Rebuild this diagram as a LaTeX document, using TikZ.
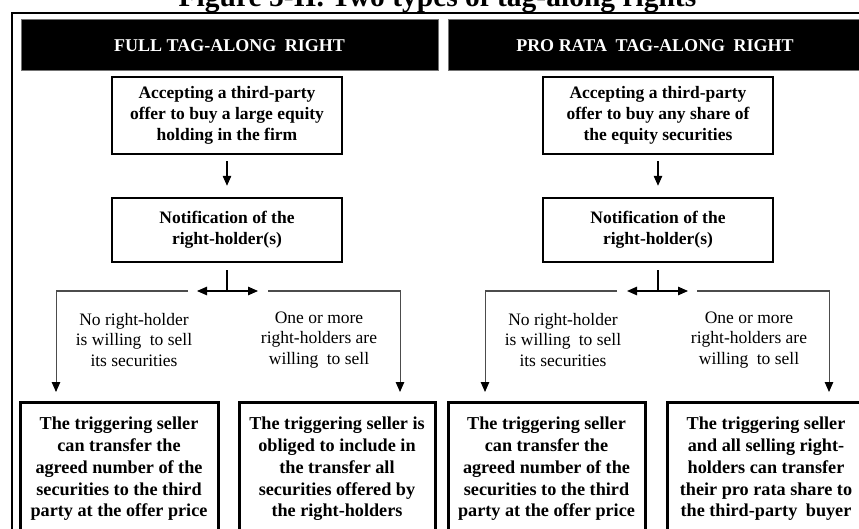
\documentclass[tikz,border=0pt]{standalone}
\usepackage{fontspec}
\setmainfont{Liberation Serif}
\usetikzlibrary{arrows.meta,calc}
\begin{document}
\begin{tikzpicture}[x=1pt,y=1pt,
  header/.style={fill=black, draw=black!55, line width=1pt, text=white,
    font=\bfseries\fontsize{18}{21}\selectfont, minimum height=51pt, inner sep=0pt},
  stepbox/.style={draw, line width=2.4pt, align=center,
    font=\bfseries\fontsize{17.5}{21}\selectfont, minimum width=230pt, inner sep=0pt},
  outcome/.style={draw, line width=3pt, align=center,
    font=\bfseries\fontsize{18.2}{21.8}\selectfont, minimum width=198pt,
    minimum height=134pt, inner sep=0pt},
  cond/.style={align=center, font=\fontsize{17.5}{20.3}\selectfont, inner sep=0pt},
  flow/.style={line width=1.2pt, -{Triangle[length=10pt,width=8.5pt]}},
  split/.style={line width=1.2pt},
  branch/.style={draw=black!70, line width=1pt,
    -{Triangle[length=10pt,width=8.5pt,color=black]}}
]
\useasboundingbox (0,0) rectangle (859,-529);
\clip (0,0) rectangle (859,-529);
\fill[white] (0,0) rectangle (859,-529);

% title and outer frame
\node[anchor=base, font=\bfseries\fontsize{29.5}{30}\selectfont] (title) at (437.5,-7)
  {Figure 5-II. Two types of tag-along rights};
\draw[line width=1.6pt] (12,-13) rectangle (880,-560);

% column headers
\node[header, minimum width=417pt] (h1) at (229.5,-45.5) {FULL TAG-ALONG\hspace{4pt} RIGHT};
\node[header, minimum width=414pt] (h2) at (655,-45.5) {PRO RATA\hspace{4pt} TAG-ALONG\hspace{4pt} RIGHT};

% ---------- full tag-along ----------
\node[stepbox, minimum height=77pt] (a1) at (227,-115.5)
  {Accepting a third-party\\offer to buy a large equity\\holding in the firm};
\node[stepbox, minimum height=64pt] (n1) at (227,-230)
  {Notification of the\\right-holder(s)};
\coordinate (j1) at (227,-291);
\coordinate (jl1) at (197,-291);
\coordinate (jr1) at (258,-291);
\coordinate (gl1) at (188,-291);
\coordinate (gr1) at (268,-291);
\coordinate (tl1) at (56,-392);
\coordinate (tr1) at (400,-392);

\draw[flow, shorten <=6pt, shorten >=11pt] (a1) -- (n1);
\draw[split, shorten <=7pt] (n1.south) -- (j1);
\draw[flow] (j1) -- (jl1);
\draw[flow] (j1) -- (jr1);
\draw[branch] (gl1) -| (tl1);
\draw[branch] (gr1) -| (tr1);

\node[cond] (c1) at (134,-340) {No right-holder\\is willing\hspace{4pt} to sell\\its securities};
\node[cond] (c2) at (319,-340) {One or more\\right-holders are\\willing\hspace{4pt} to sell};

\node[outcome] (b1) at (119,-469)
  {The triggering seller\\can transfer the\\agreed number of the\\securities to the third\\party at the offer price};
\node[outcome, minimum width=196pt] (b2) at (337,-469)
  {The triggering seller is\\obliged to include in\\the transfer all\\securities offered by\\the right-holders};

% ---------- pro rata tag-along ----------
\node[stepbox, minimum height=77pt] (a2) at (658,-115.5)
  {Accepting a third-party\\offer to buy any share of\\the equity securities};
\node[stepbox, minimum height=64pt] (n2) at (658,-230)
  {Notification of the\\right-holder(s)};
\coordinate (j2) at (658,-291);
\coordinate (jl2) at (627,-291);
\coordinate (jr2) at (688,-291);
\coordinate (gl2) at (617,-291);
\coordinate (gr2) at (697,-291);
\coordinate (tl2) at (485,-392);
\coordinate (tr2) at (829,-392);

\draw[flow, shorten <=6pt, shorten >=11pt] (a2) -- (n2);
\draw[split, shorten <=7pt] (n2.south) -- (j2);
\draw[flow] (j2) -- (jl2);
\draw[flow] (j2) -- (jr2);
\draw[branch] (gl2) -| (tl2);
\draw[branch] (gr2) -| (tr2);

\node[cond] (c3) at (563,-340) {No right-holder\\is willing\hspace{4pt} to sell\\its securities};
\node[cond] (c4) at (749,-340) {One or more\\right-holders are\\willing\hspace{4pt} to sell};

\node[outcome, minimum width=197pt] (b3) at (546.5,-469)
  {The triggering seller\\can transfer the\\agreed number of the\\securities to the third\\party at the offer price};
\node[outcome] (b4) at (766,-469)
  {The triggering seller\\and all selling right-\\holders can transfer\\their pro rata share to\\the third-party\hspace{4pt} buyer};
\end{tikzpicture}
\end{document}
